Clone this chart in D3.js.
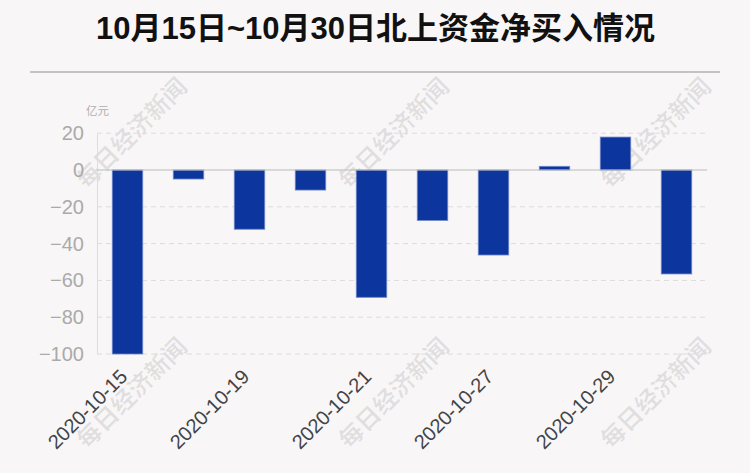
<!DOCTYPE html>
<html><head><meta charset="utf-8">
<script src="https://cdn.jsdelivr.net/npm/d3@7/dist/d3.min.js"></script>
<style>
html,body{margin:0;padding:0;background:#f9f6f7;}
svg{display:block;font-family:"Liberation Sans","Noto Sans CJK SC",sans-serif;}
</style></head>
<body>
<svg id="c" width="750" height="473"></svg>
<script>
const categories = ["2020-10-15","2020-10-16","2020-10-19","2020-10-20","2020-10-21","2020-10-22","2020-10-27","2020-10-28","2020-10-29","2020-10-30"];
const values = [-100, -4.9, -32.2, -10.9, -69.2, -27.4, -46.2, 2.0, 17.9, -56.5];
const yTicks = [20, 0, -20, -40, -60, -80, -100];
const shownLabels = ["2020-10-15","2020-10-19","2020-10-21","2020-10-27","2020-10-29"];
const title = "10月15日~10月30日北上资金净买入情况";
const unit = "亿元";
const watermark = "每日经济新闻";

(function(){
const svg = d3.select("#c");
const mL = 97, mR = 707, mT = 133.2, mB = 354;

// watermarks
const wmPos = [[87,190],[349,190],[611,190],[87,450],[349,450],[611,450]];
svg.append("g").selectAll("text").data(wmPos).join("text")
  .attr("transform", d => `translate(${d[0]},${d[1]}) rotate(-45)`)
  .attr("font-family", "'Noto Sans CJK SC',sans-serif")
  .attr("font-weight", "bold")
  .attr("font-size", 24)
  .attr("fill", "#000").attr("fill-opacity", 0.09)
  .text(watermark);

// title
svg.append("text").attr("x", 375.5).attr("y", 39).attr("text-anchor", "middle")
  .attr("font-family", "'Liberation Sans','Noto Sans CJK SC',sans-serif")
  .attr("font-weight", "bold").attr("font-size", 31).attr("fill", "#111")
  .text(title);
svg.append("line").attr("x1", 30).attr("x2", 720).attr("y1", 72).attr("y2", 72)
  .attr("stroke", "#c4c4c4").attr("stroke-width", 2);

const x = d3.scaleBand().domain(categories).range([mL, mR]).paddingInner(0.5).paddingOuter(0.25);
const y = d3.scaleLinear().domain([-100, 20]).range([mB, mT]);

// grid
svg.append("g").selectAll("line").data(yTicks.filter(t => t !== 0)).join("line")
  .attr("x1", mL).attr("x2", mR)
  .attr("y1", d => y(d)).attr("y2", d => y(d))
  .attr("stroke", "#dcdcdc").attr("stroke-dasharray", "5,4");

// y axis
const yAxis = svg.append("g").attr("transform", `translate(${mL},0)`)
  .call(d3.axisLeft(y).tickValues(yTicks).tickSize(0).tickPadding(13));
yAxis.select(".domain").attr("stroke", "#dddddd");
yAxis.selectAll("text").attr("font-size", 20).attr("fill", "#aaaaaa")
  .attr("font-family", "'Liberation Sans',sans-serif");

svg.append("text").attr("x", 86).attr("y", 115).attr("font-size", 11.5)
  .attr("fill", "#b0b0b0").attr("font-family", "'Noto Sans CJK SC',sans-serif").text(unit);

// bars
svg.append("g").selectAll("rect").data(values).join("rect")
  .attr("x", (d, i) => x(categories[i]))
  .attr("width", x.bandwidth())
  .attr("y", d => y(Math.max(0, d)))
  .attr("height", d => Math.abs(y(d) - y(0)))
  .attr("fill", "#0c359e")
  .attr("stroke", "#6f87c9").attr("stroke-width", 0.8);

// zero line
svg.append("line").attr("x1", mL).attr("x2", mR).attr("y1", y(0)).attr("y2", y(0))
  .attr("stroke", "#bbbbbb").attr("stroke-width", 1.2);

// x axis labels
const xAxis = svg.append("g").attr("transform", `translate(0,${mB})`)
  .call(d3.axisBottom(x).tickValues(shownLabels).tickSize(0).tickPadding(0));
xAxis.select(".domain").remove();
xAxis.selectAll("text")
  .attr("font-size", 20).attr("fill", "#444")
  .attr("font-family", "'Liberation Sans',sans-serif")
  .attr("text-anchor", "end")
  .attr("dy", 0)
  .attr("transform", "translate(1,24) rotate(-45)");
})();
</script>
</body></html>
